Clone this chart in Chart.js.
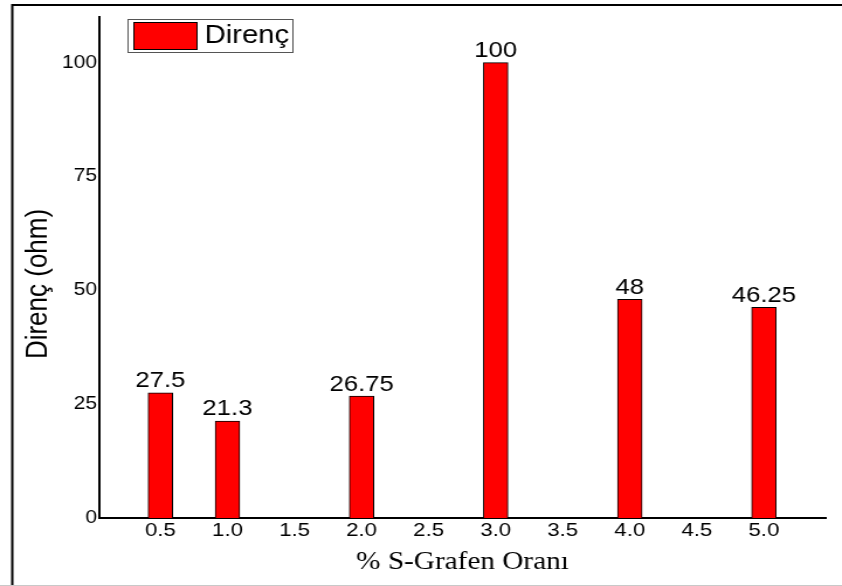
<!DOCTYPE html>
<html>
<head>
<meta charset="utf-8">
<script src="https://cdn.jsdelivr.net/npm/chart.js@4.4.1/dist/chart.umd.min.js"></script>
<style>
  html, body { margin: 0; padding: 0; background: #fff; overflow: hidden; }
  /* the figure is drawn narrow and widened, like the original plot export */
  #wrap { width: 720px; height: 586px; transform: scaleX(1.1694); transform-origin: 0 0; }
</style>
</head>
<body>
<div id="wrap"><canvas id="chart" width="720" height="586"></canvas></div>
<script>
const seriesLabel = "Direnç";
const grapheneRatio = [0.5, 1.0, 2.0, 3.0, 4.0, 5.0];
const resistance = [27.5, 21.3, 26.75, 100, 48, 46.25];
const xTicks = [0.5, 1.0, 1.5, 2.0, 2.5, 3.0, 3.5, 4.0, 4.5, 5.0];
const yTicks = [0, 25, 50, 75, 100];
const xTitle = "% S-Grafen Oranı";
const yTitle = "Direnç (ohm)";

const sans = "'Liberation Sans', Arial, sans-serif";
const serif = "'Liberation Serif', 'Times New Roman', serif";

// outer frame of the figure
const framePlugin = {
  id: "frame",
  beforeDraw(chart) {
    const ctx = chart.ctx;
    ctx.save();
    ctx.fillStyle = "#fff";
    ctx.fillRect(0, 0, chart.width, chart.height);
    ctx.strokeStyle = "#000";
    ctx.lineWidth = 2;
    ctx.beginPath();
    ctx.moveTo(10.5, chart.height);
    ctx.lineTo(10.5, 5);
    ctx.lineTo(chart.width, 5);
    ctx.stroke();
    ctx.strokeStyle = "#c8c8c8";
    ctx.lineWidth = 1;
    ctx.beginPath();
    ctx.moveTo(0, 585.5);
    ctx.lineTo(chart.width, 585.5);
    ctx.stroke();
    ctx.restore();
  }
};

// y title sits a bit below the middle of the axis
const yTitlePlugin = {
  id: "yTitle",
  afterDraw(chart) {
    const ctx = chart.ctx;
    ctx.save();
    ctx.translate(33, 284);
    ctx.rotate(-Math.PI / 2);
    ctx.font = "26px " + sans;
    ctx.fillStyle = "#000";
    ctx.textAlign = "center";
    ctx.textBaseline = "middle";
    ctx.fillText(yTitle, 0, 0);
    ctx.restore();
  }
};

// value printed above every bar
const barValuesPlugin = {
  id: "barValues",
  afterDatasetsDraw(chart) {
    const ctx = chart.ctx;
    const meta = chart.getDatasetMeta(0);
    ctx.save();
    ctx.font = "22px " + sans;
    ctx.fillStyle = "#000";
    ctx.textAlign = "center";
    ctx.textBaseline = "alphabetic";
    meta.data.forEach((bar, i) => {
      ctx.fillText(String(resistance[i]), bar.x, bar.y - 5.5);
    });
    ctx.restore();
  }
};

// boxed legend in the upper left corner of the plot
const boxLegendPlugin = {
  id: "boxLegend",
  afterDraw(chart) {
    const ctx = chart.ctx;
    const ds = chart.data.datasets[0];
    ctx.save();
    ctx.fillStyle = "#fff";
    ctx.fillRect(109, 19, 141, 33);
    ctx.strokeStyle = "#555";
    ctx.lineWidth = 1;
    ctx.strokeRect(109.5, 19.5, 141, 33);
    ctx.fillStyle = ds.backgroundColor;
    ctx.fillRect(114, 22, 54, 27);
    ctx.strokeStyle = "#000";
    ctx.strokeRect(114.5, 22.5, 54, 27);
    ctx.fillStyle = "#000";
    ctx.font = "25px " + sans;
    ctx.textBaseline = "middle";
    ctx.fillText(ds.label, 175, 36);
    ctx.restore();
  }
};

new Chart(document.getElementById("chart").getContext("2d"), {
  type: "bar",
  data: {
    datasets: [{
      label: seriesLabel,
      data: grapheneRatio.map((x, i) => ({ x, y: resistance[i] })),
      backgroundColor: "#ff0000",
      borderColor: "#000",
      borderWidth: 1,
      barThickness: 21,
    }]
  },
  options: {
    responsive: false,
    animation: false,
    layout: { padding: { left: 12, top: 17, right: 14, bottom: 0 } },
    plugins: {
      legend: { display: false },
      tooltip: { enabled: false },
    },
    scales: {
      x: {
        type: "linear",
        offset: false,
        min: 0.045,
        max: 5.46,
        afterBuildTicks: axis => { axis.ticks = xTicks.map(value => ({ value })); },
        afterFit: axis => { axis.height = 68; },
        grid: { display: false, drawTicks: false },
        border: { display: true, color: "#000", width: 2 },
        ticks: {
          color: "#000",
          padding: 1,
          font: { family: sans, size: 19 },
          callback: v => v.toFixed(1),
        },
        title: {
          display: true,
          text: xTitle,
          color: "#000",
          font: { family: serif, size: 25 },
          padding: { top: 0, bottom: 9 },
        },
      },
      y: {
        min: 0,
        max: 110,
        afterBuildTicks: axis => { axis.ticks = yTicks.map(value => ({ value })); },
        afterFit: axis => { axis.width = 73; },
        grid: { display: false, drawTicks: false },
        border: { display: true, color: "#000", width: 2 },
        ticks: {
          color: "#000",
          padding: 2,
          font: { family: sans, size: 18 },
        },
      },
    },
  },
  plugins: [framePlugin, barValuesPlugin, boxLegendPlugin, yTitlePlugin],
});
</script>
</body>
</html>
